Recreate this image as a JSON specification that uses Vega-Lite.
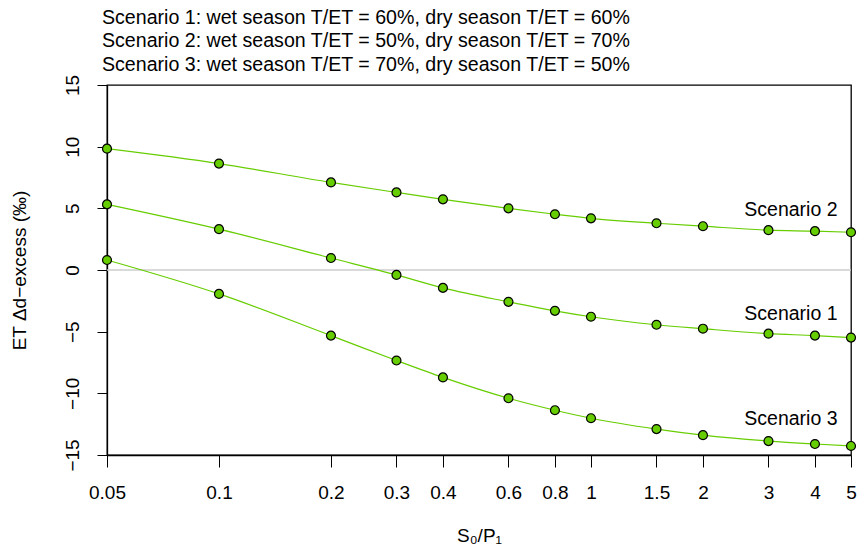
{
  "$schema": "https://vega.github.io/schema/vega-lite/v6.json",
  "width": 744,
  "height": 370,
  "autosize": "none",
  "padding": {"left": 107, "top": 85, "right": 9, "bottom": 92},
  "background": "white",
  "config": {
    "font": "Liberation Sans",
    "view": {"stroke": "black", "strokeWidth": 1.3},
    "axis": {
      "labelFont": "Liberation Sans",
      "titleFont": "Liberation Sans",
      "labelFontSize": 19,
      "titleFontSize": 19,
      "titleFontWeight": "normal",
      "labelColor": "black",
      "titleColor": "black",
      "domainColor": "black",
      "tickColor": "black",
      "grid": false
    }
  },
  "title": {
    "text": [
      "Scenario 1: wet season T/ET = 60%, dry season T/ET = 60%",
      "Scenario 2: wet season T/ET = 50%, dry season T/ET = 70%",
      "Scenario 3: wet season T/ET = 70%, dry season T/ET = 50%"
    ],
    "anchor": "start",
    "frame": "group",
    "dx": -5,
    "offset": -1,
    "fontSize": 19.6,
    "fontWeight": "normal",
    "font": "Liberation Sans",
    "color": "black",
    "lineHeight": 23.5
  },
  "datasets": {
    "curves": [
      {"scenario": "Scenario 1", "ratio": 0.05, "dexcess": 5.32},
      {"scenario": "Scenario 1", "ratio": 0.1, "dexcess": 3.31},
      {"scenario": "Scenario 1", "ratio": 0.2, "dexcess": 0.97},
      {"scenario": "Scenario 1", "ratio": 0.3, "dexcess": -0.4},
      {"scenario": "Scenario 1", "ratio": 0.4, "dexcess": -1.45},
      {"scenario": "Scenario 1", "ratio": 0.6, "dexcess": -2.58},
      {"scenario": "Scenario 1", "ratio": 0.8, "dexcess": -3.31},
      {"scenario": "Scenario 1", "ratio": 1, "dexcess": -3.79},
      {"scenario": "Scenario 1", "ratio": 1.5, "dexcess": -4.44},
      {"scenario": "Scenario 1", "ratio": 2, "dexcess": -4.76},
      {"scenario": "Scenario 1", "ratio": 3, "dexcess": -5.16},
      {"scenario": "Scenario 1", "ratio": 4, "dexcess": -5.32},
      {"scenario": "Scenario 1", "ratio": 5, "dexcess": -5.48},
      {"scenario": "Scenario 2", "ratio": 0.05, "dexcess": 9.84},
      {"scenario": "Scenario 2", "ratio": 0.1, "dexcess": 8.63},
      {"scenario": "Scenario 2", "ratio": 0.2, "dexcess": 7.1},
      {"scenario": "Scenario 2", "ratio": 0.3, "dexcess": 6.29},
      {"scenario": "Scenario 2", "ratio": 0.4, "dexcess": 5.73},
      {"scenario": "Scenario 2", "ratio": 0.6, "dexcess": 5.0},
      {"scenario": "Scenario 2", "ratio": 0.8, "dexcess": 4.52},
      {"scenario": "Scenario 2", "ratio": 1, "dexcess": 4.19},
      {"scenario": "Scenario 2", "ratio": 1.5, "dexcess": 3.79},
      {"scenario": "Scenario 2", "ratio": 2, "dexcess": 3.55},
      {"scenario": "Scenario 2", "ratio": 3, "dexcess": 3.23},
      {"scenario": "Scenario 2", "ratio": 4, "dexcess": 3.15},
      {"scenario": "Scenario 2", "ratio": 5, "dexcess": 3.06},
      {"scenario": "Scenario 3", "ratio": 0.05, "dexcess": 0.81},
      {"scenario": "Scenario 3", "ratio": 0.1, "dexcess": -1.94},
      {"scenario": "Scenario 3", "ratio": 0.2, "dexcess": -5.32},
      {"scenario": "Scenario 3", "ratio": 0.3, "dexcess": -7.34},
      {"scenario": "Scenario 3", "ratio": 0.4, "dexcess": -8.71},
      {"scenario": "Scenario 3", "ratio": 0.6, "dexcess": -10.4},
      {"scenario": "Scenario 3", "ratio": 0.8, "dexcess": -11.37},
      {"scenario": "Scenario 3", "ratio": 1, "dexcess": -12.02},
      {"scenario": "Scenario 3", "ratio": 1.5, "dexcess": -12.9},
      {"scenario": "Scenario 3", "ratio": 2, "dexcess": -13.39},
      {"scenario": "Scenario 3", "ratio": 3, "dexcess": -13.87},
      {"scenario": "Scenario 3", "ratio": 4, "dexcess": -14.11},
      {"scenario": "Scenario 3", "ratio": 5, "dexcess": -14.27}
    ],
    "labels": [
      {"scenario": "Scenario 2", "ratio": 4.6, "dexcess": 4.85},
      {"scenario": "Scenario 1", "ratio": 4.6, "dexcess": -3.6},
      {"scenario": "Scenario 3", "ratio": 4.6, "dexcess": -12.1}
    ],
    "zero": [{"dexcess": 0}]
  },
  "layer": [
    {
      "data": {"name": "zero"},
      "mark": {"type": "rule", "color": "#cccccc", "strokeWidth": 1.3},
      "encoding": {
        "y": {"field": "dexcess", "type": "quantitative", "scale": {"domain": [-15, 15]}}
      }
    },
    {
      "data": {"name": "curves"},
      "mark": {"type": "line", "color": "#66cd00", "strokeWidth": 1.2, "interpolate": "monotone"},
      "encoding": {
        "x": {
          "field": "ratio",
          "type": "quantitative",
          "scale": {"type": "log", "domain": [0.05, 5], "nice": false},
          "axis": {
            "title": "S₀/P₁",
            "values": [0.05, 0.1, 0.2, 0.3, 0.4, 0.6, 0.8, 1, 1.5, 2, 3, 4, 5],
            "labelExpr": "datum.value == 0.05 ? '0.05' : format(datum.value, '')",
            "tickSize": 12,
            "labelPadding": 16,
            "titlePadding": 24,
            "labelFlush": false,
            "labelOverlap": false,
            "domainWidth": 1.3
          }
        },
        "y": {
          "field": "dexcess",
          "type": "quantitative",
          "scale": {"domain": [-15, 15], "nice": false, "zero": false},
          "axis": {
            "title": "ET Δd−excess (‰)",
            "values": [-15, -10, -5, 0, 5, 10, 15],
            "labelExpr": "replace(format(datum.value, 'd'), '-', '−')",
            "labelAngle": -90,
            "labelAlign": "center",
            "labelBaseline": "bottom",
            "tickSize": 10,
            "labelPadding": 15,
            "titlePadding": 34,
            "domainWidth": 1.3
          }
        },
        "detail": {"field": "scenario"}
      }
    },
    {
      "data": {"name": "curves"},
      "mark": {"type": "point", "filled": true, "fill": "#66cd00", "stroke": "black", "strokeWidth": 1.2, "size": 80, "opacity": 1},
      "encoding": {
        "x": {"field": "ratio", "type": "quantitative", "scale": {"type": "log", "domain": [0.05, 5], "nice": false}},
        "y": {"field": "dexcess", "type": "quantitative"}
      }
    },
    {
      "data": {"name": "labels"},
      "mark": {"type": "text", "align": "right", "baseline": "middle", "fontSize": 19.5, "font": "Liberation Sans", "color": "black"},
      "encoding": {
        "x": {"field": "ratio", "type": "quantitative", "scale": {"type": "log", "domain": [0.05, 5], "nice": false}},
        "y": {"field": "dexcess", "type": "quantitative"},
        "text": {"field": "scenario"}
      }
    }
  ]
}
